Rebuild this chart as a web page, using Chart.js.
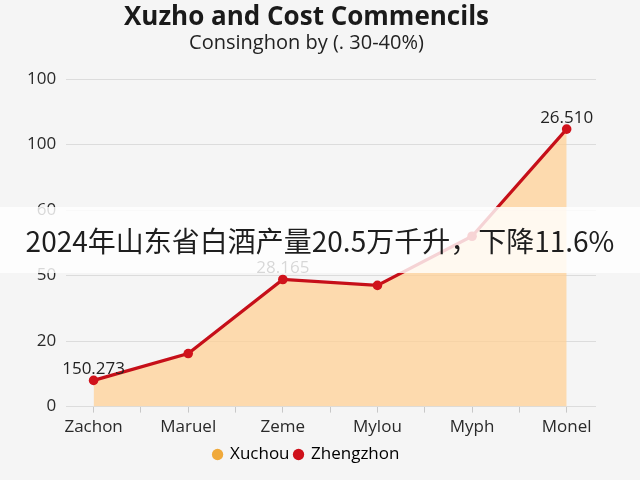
<!DOCTYPE html>
<html lang="en">
<head>
    <meta charset="UTF-8">
    <title>Xuzho and Cost Commencils</title>
    <script src="https://cdn.jsdelivr.net/npm/chart.js"></script>
    <style>
        html, body { margin: 0; padding: 0; background: #f5f5f5; }
        .wrap { position: relative; width: 640px; height: 480px; }
        .banner {
            position: absolute; left: 0; top: 207px; width: 640px; height: 66px;
            background: rgba(255, 255, 255, 0.82);
            font-family: "Noto Sans CJK SC", sans-serif; font-size: 28px; color: #1e1e1e;
            line-height: 66px; text-align: center; white-space: nowrap;
        }
    </style>
</head>
<body>
    <div class="wrap">
        <canvas id="chart" width="640" height="480"></canvas>
        <div class="banner">2024年山东省白酒产量20.5万千升，下降11.6%</div>
    </div>

    <script>
        const categories = ["Zachon", "Maruel", "Zeme", "Mylou", "Myph", "Monel"];
        const xuchouValues = [8, 16.2, 38.8, 37, 52, 84.7];
        const zhengzhonValues = [8, 16.2, 38.8, 37, 52, 84.7];
        const yTickLabels = ["0", "20", "50", "60", "100", "100"];
        const pointLabels = ["150.273", "", "28.165", "", "", "26.510"];

        const toPoints = vals => vals.map((v, i) => ({ x: i, y: v }));
        const font = size => ({ family: "'Open Sans', sans-serif", size: size });

        // numbers written above some of the red points
        const pointLabelPlugin = {
            id: "pointLabels",
            afterDatasetsDraw(chart) {
                const meta = chart.getDatasetMeta(1);
                const ctx = chart.ctx;
                ctx.save();
                ctx.font = "17px 'Open Sans', sans-serif";
                ctx.fillStyle = "#222";
                ctx.textAlign = "center";
                ctx.textBaseline = "middle";
                meta.data.forEach((pt, i) => {
                    if (pointLabels[i]) ctx.fillText(pointLabels[i], pt.x, pt.y - 11);
                });
                ctx.restore();
            }
        };

        new Chart(document.getElementById("chart"), {
            type: "line",
            data: {
                datasets: [
                    {
                        label: "Xuchou",
                        data: toPoints(xuchouValues),
                        backgroundColor: "rgba(255, 208, 150, 0.75)",
                        borderColor: "rgba(0,0,0,0)",
                        borderWidth: 0,
                        pointRadius: 0,
                        fill: "origin",
                        tension: 0,
                        order: 2
                    },
                    {
                        label: "Zhengzhon",
                        data: toPoints(zhengzhonValues),
                        borderColor: "#c60f19",
                        backgroundColor: "#c60f19",
                        borderWidth: 3.2,
                        pointRadius: 4.8,
                        pointBackgroundColor: "#d0121b",
                        pointBorderWidth: 0,
                        fill: false,
                        tension: 0,
                        order: 1
                    }
                ]
            },
            options: {
                responsive: false,
                animation: false,
                layout: { padding: { left: 17, right: 44, bottom: 7 } },
                plugins: {
                    title: {
                        display: true,
                        text: "Xuzho and Cost Commencils",
                        color: "#1a1a1a",
                        font: { family: "'Open Sans', sans-serif", size: 26, weight: "bold", lineHeight: 1.0 },
                        padding: { top: 5, bottom: 0 }
                    },
                    subtitle: {
                        display: true,
                        text: "Consinghon by (. 30-40%)",
                        color: "#222",
                        font: { family: "'Open Sans', sans-serif", size: 20, lineHeight: 1.2 },
                        padding: { top: 0, bottom: 24 }
                    },
                    legend: {
                        position: "bottom",
                        labels: {
                            usePointStyle: true,
                            pointStyle: "circle",
                            boxWidth: 8,
                            boxHeight: 8,
                            padding: 5,
                            color: "#222",
                            font: font(17),
                            generateLabels(chart) {
                                const cols = ["#f0a93a", "#cf111b"];
                                return chart.data.datasets.map((ds, i) => ({
                                    text: ds.label,
                                    fillStyle: cols[i],
                                    strokeStyle: cols[i],
                                    lineWidth: 0,
                                    pointStyle: "circle",
                                    datasetIndex: i
                                }));
                            }
                        }
                    },
                    tooltip: { enabled: false }
                },
                scales: {
                    x: {
                        type: "linear",
                        min: -0.29,
                        max: 5.31,
                        border: { display: false },
                        grid: { drawOnChartArea: false, drawTicks: true, tickLength: 6, color: "#c8c8c8" },
                        ticks: {
                            stepSize: 0.5,
                            includeBounds: false,
                            autoSkip: false,
                            maxRotation: 0,
                            padding: 4,
                            color: "#2a2a2a",
                            font: font(17),
                            callback: v => Number.isInteger(v) ? categories[v] : ""
                        }
                    },
                    y: {
                        min: 0,
                        max: 100,
                        border: { display: false },
                        grid: { drawTicks: false, color: "#dcdcdc" },
                        ticks: {
                            stepSize: 20,
                            padding: 10,
                            color: "#2a2a2a",
                            font: font(17),
                            callback: (v, i) => yTickLabels[i]
                        }
                    }
                }
            },
            plugins: [pointLabelPlugin]
        });
    </script>
</body>
</html>
